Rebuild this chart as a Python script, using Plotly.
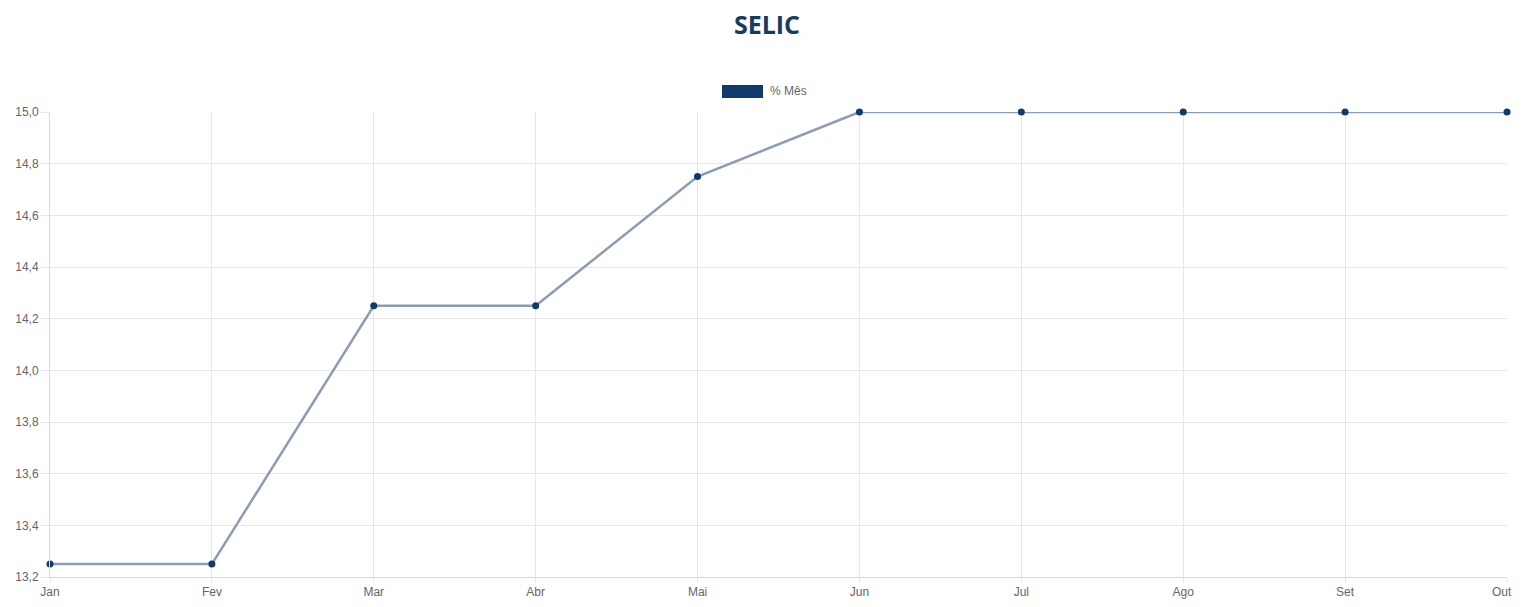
import plotly.graph_objects as go

# dados
meses = ["Jan", "Fev", "Mar", "Abr", "Mai", "Jun", "Jul", "Ago", "Set", "Out"]
selic = [13.25, 13.25, 14.25, 14.25, 14.75, 15.0, 15.0, 15.0, 15.0, 15.0]
y_ticks = [13.2, 13.4, 13.6, 13.8, 14.0, 14.2, 14.4, 14.6, 14.8, 15.0]

navy = "#0f3a6b"
grid = "#e6e6e6"
tick_font = dict(family="Liberation Sans", size=12, color="#666")

# a pagina tem margem de 8px no body -> compensar (sem overflow)
W, H = 1505, 591
L, T, R, B = 42, 104, 6, 22
pw, ph = W - L - R, H - T - B

fig = go.Figure()
fig.add_trace(go.Scatter(
    x=meses, y=selic, name="% Mês", mode="lines+markers",
    line=dict(color="#8b9cb6", width=2.5),
    marker=dict(color=navy, size=7),
    cliponaxis=False, showlegend=False,
))

# legenda estilo chart.js (caixa + texto)
fig.add_shape(type="rect", xref="paper", yref="paper",
              x0=(722 - 50) / pw, x1=(763 - 50) / pw,
              y0=1 + (112 - 98) / ph, y1=1 + (112 - 85) / ph,
              fillcolor=navy, line=dict(width=0))
fig.add_annotation(text="% Mês", xref="paper", yref="paper",
                   x=(768 - 50) / pw, y=1 + (112 - 91) / ph,
                   xanchor="left", yanchor="middle", showarrow=False,
                   font=tick_font)

# ultimo rotulo do eixo x encostado na borda para nao ser cortado
fig.add_annotation(text=meses[-1], xref="x", yref="paper", x=meses[-1], y=0,
                   xanchor="right", yanchor="top", xshift=6, yshift=-7,
                   showarrow=False, font=tick_font, borderpad=0)

fig.update_layout(
    width=W, height=H,
    margin=dict(l=L, r=R, t=T, b=B),
    paper_bgcolor="white", plot_bgcolor="white",
    separators=",.",
    title=dict(text="<b>SELIC</b>", x=(767 - 8) / W, xanchor="center",
               y=1 - 17 / H, yanchor="middle",
               font=dict(family="Open Sans", size=25, color="#173b64")),
    font=tick_font,
    xaxis=dict(
        type="category", range=[0, 9], showgrid=True, gridcolor=grid,
        showline=True, linecolor="#d9d9d9", ticks="outside", ticklen=4,
        tickcolor=grid, zeroline=False, automargin=False,
        tickvals=meses, ticktext=meses[:-1] + [""], ticklabelstandoff=0,
    ),
    yaxis=dict(
        range=[13.2, 15.0], tickvals=y_ticks, tickformat=".1f",
        showgrid=True, gridcolor=grid, showline=True, linecolor="#d9d9d9",
        ticks="outside", ticklen=8, tickcolor=grid, zeroline=False,
        automargin=False,
    ),
)

fig.write_html("out.html")
